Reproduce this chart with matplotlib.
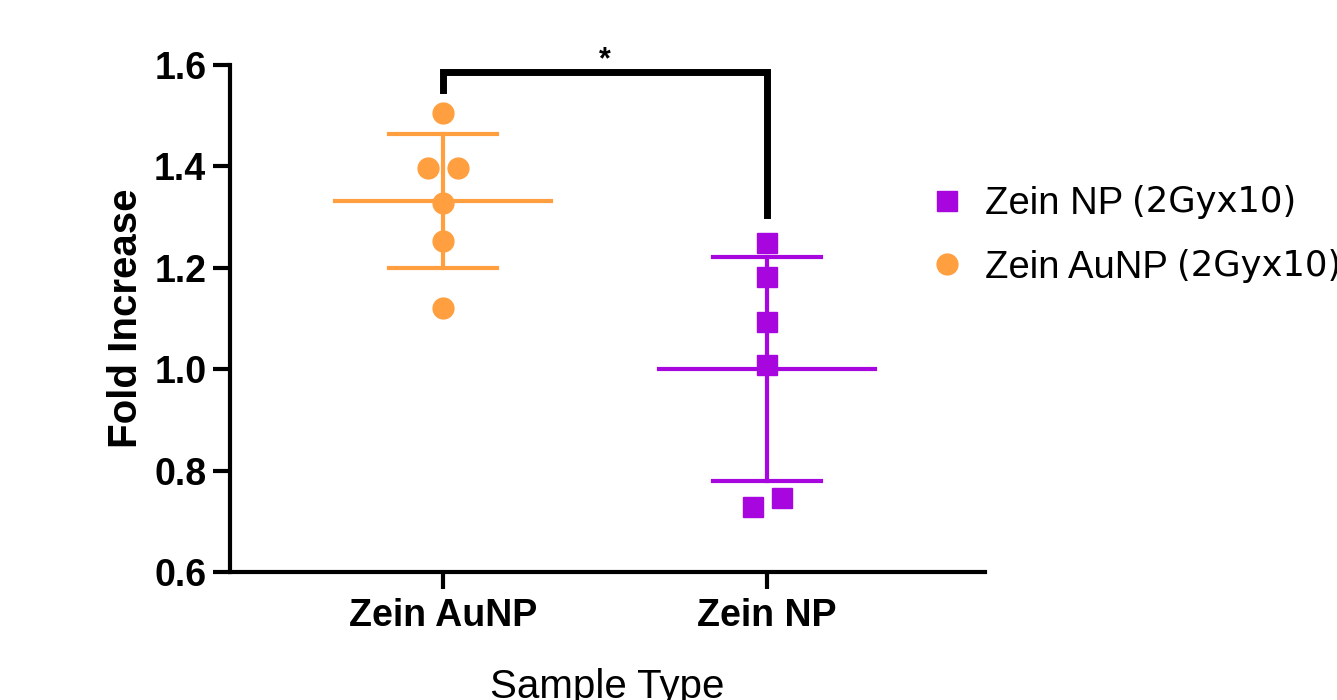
import numpy as np
import matplotlib.pyplot as plt

plt.rcParams['font.family'] = ['Liberation Sans', 'DejaVu Sans']

groups = ["Zein AuNP", "Zein NP"]
legend_names = ["Zein NP", "Zein AuNP"]
legend_suffix = "(2Gyx10)"
aunp_vals = [1.505, 1.397, 1.397, 1.328, 1.253, 1.121]
aunp_jitter = [0.0, -0.045, 0.045, 0.0, 0.0, 0.0]
np_vals = [1.249, 1.182, 1.093, 1.008, 0.746, 0.728]
np_jitter = [0.0, 0.0, 0.0, 0.0, 0.045, -0.045]
aunp_mean, aunp_sd = 1.332, 0.133
np_mean, np_sd = 1.001, 0.221

orange = "#FF9F40"
purple = "#A806DE"

fig = plt.figure(figsize=(13.37, 7.0), dpi=100)
ax = fig.add_axes([0.172, 0.183, 0.565, 0.724])

# scatter points
ax.plot(np.array(aunp_jitter) + 0, aunp_vals, 'o', color=orange, markersize=15, zorder=3)
ax.plot(np.array(np_jitter) + 1, np_vals, 's', color=purple, markersize=15, zorder=3)

# mean and SD lines
for x, m, s, c in [(0, aunp_mean, aunp_sd, orange), (1, np_mean, np_sd, purple)]:
    ax.plot([x - 0.333, x + 0.333], [m, m], color=c, lw=3, zorder=2)
    ax.plot([x, x], [m - s, m + s], color=c, lw=3, zorder=2)
    ax.plot([x - 0.167, x + 0.167], [m + s, m + s], color=c, lw=3, zorder=2)
    ax.plot([x - 0.167, x + 0.167], [m - s, m - s], color=c, lw=3, zorder=2)

# significance bracket
ax.plot([0, 0, 1, 1], [1.55, 1.587, 1.587, 1.305], color='black', lw=5,
        solid_joinstyle='miter', clip_on=False, zorder=4)
ax.text(0.5, 1.58, "*", ha='center', va='bottom', fontsize=22, fontweight='bold')

ax.set_xlim(-0.657, 1.673)
ax.set_ylim(0.6, 1.6)
ax.set_yticks([0.6, 0.8, 1.0, 1.2, 1.4, 1.6])
ax.set_yticklabels(["0.6", "0.8", "1.0", "1.2", "1.4", "1.6"])
ax.set_xticks([0, 1])
ax.set_xticklabels(groups)

for side in ['top', 'right']:
    ax.spines[side].set_visible(False)
for side in ['left', 'bottom']:
    ax.spines[side].set_linewidth(3)
ax.tick_params(axis='both', width=3, length=12, labelsize=27)
for lab in ax.get_xticklabels() + ax.get_yticklabels():
    lab.set_fontweight('bold')
ax.tick_params(axis='y', pad=5)
ax.tick_params(axis='x', pad=7)

ax.set_ylabel("Fold Increase", fontsize=29, fontweight='bold', labelpad=6.5)
ax.set_xlabel("Sample Type", fontsize=29, labelpad=24)

# legend
h1, = ax.plot([], [], 's', color=purple, markersize=15)
h2, = ax.plot([], [], 'o', color=orange, markersize=15)
leg = fig.legend([h1, h2], legend_names, loc='upper left', bbox_to_anchor=(0.694, 0.734),
                 frameon=False, fontsize=27.5, handlelength=1.0, handletextpad=0.5,
                 labelspacing=0.72, borderpad=0, borderaxespad=0)

fig.canvas.draw()
for t in leg.get_texts():
    bb = t.get_window_extent()
    fig.text((bb.x1 + 9) / fig.bbox.width, (bb.y0 + bb.y1) / 2 / fig.bbox.height + 0.003,
             legend_suffix, fontsize=25.5, family='DejaVu Sans', ha='left', va='center')

fig.savefig("out.png", dpi=100)
